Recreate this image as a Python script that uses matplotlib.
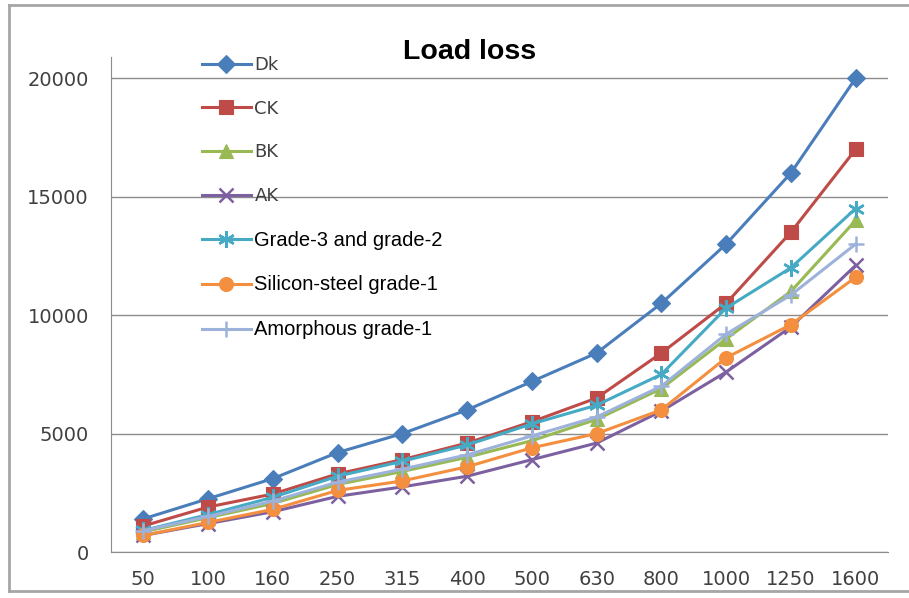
import matplotlib
matplotlib.use('Agg')
import matplotlib.pyplot as plt
from matplotlib.lines import Line2D

ratings = ['50', '100', '160', '250', '315', '400', '500', '630', '800', '1000', '1250', '1600']

dk = [1400, 2250, 3100, 4200, 5000, 6000, 7200, 8400, 10500, 13000, 16000, 20000]
ck = [1100, 1900, 2450, 3300, 3900, 4600, 5500, 6500, 8400, 10500, 13500, 17000]
bk = [850, 1450, 2050, 2850, 3400, 4000, 4700, 5600, 6900, 9000, 11000, 14000]
ak = [700, 1200, 1700, 2350, 2750, 3200, 3900, 4600, 5950, 7600, 9500, 12100]
grade3 = [910, 1580, 2310, 3200, 3830, 4520, 5410, 6200, 7500, 10300, 12000, 14500]
si_grade1 = [700, 1250, 1800, 2600, 3000, 3600, 4400, 5000, 6000, 8200, 9600, 11600]
amorph_grade1 = [900, 1500, 2150, 2950, 3500, 4100, 4900, 5700, 7000, 9200, 10850, 13000]

series = [
    ('Dk', dk, '#4A7EBB', 'D', 9),
    ('CK', ck, '#BE4B48', 's', 10),
    ('BK', bk, '#98B954', '^', 10),
    ('AK', ak, '#7D60A0', 'x', 10),
    ('Grade-3 and grade-2', grade3, '#46AAC5', (6, 2, 0), 12),
    ('Silicon-steel grade-1', si_grade1, '#F38F3F', 'o', 10),
    ('Amorphous grade-1', amorph_grade1, '#9DB2DA', '+', 12),
]

fig = plt.figure(figsize=(9.09, 5.98), dpi=100)
ax = fig.add_axes([111 / 909, 1 - 552 / 598, 777 / 909, 495 / 598])

xs = list(range(len(ratings)))
for name, vals, color, marker, ms in series:
    ax.plot(xs, vals, color=color, lw=2.2, marker=marker, markersize=ms,
            markeredgewidth=1.8 if marker in ('x', '+', (6, 2, 0)) else 0.8,
            markeredgecolor=color, label=name)

ax.set_xlim(-0.5, 11.5)
ax.set_ylim(0, 20900)
ax.set_yticks([0, 5000, 10000, 15000, 20000])
ax.set_xticks(xs)
ax.set_xticklabels(ratings)
ax.grid(axis='y', color='#8C8C8C', lw=1)
ax.set_axisbelow(True)
for s in ['top', 'right']:
    ax.spines[s].set_visible(False)
for s in ['left', 'bottom']:
    ax.spines[s].set_color('#8C8C8C')
ax.tick_params(length=0, labelsize=14, colors='#404040')
ax.tick_params(axis='x', pad=13)
ax.tick_params(axis='y', pad=16)

handles, labels = ax.get_legend_handles_labels()
leg = ax.legend(handles, labels, loc='upper left', frameon=False,
                bbox_to_anchor=(193 / 909, 1 - 47 / 598), bbox_transform=fig.transFigure,
                borderpad=0, handlelength=2.7, handletextpad=0.2, labelspacing=1.42,
                fontsize=13)
for t in leg.get_texts()[:4]:
    t.set_color('#404040')
for t in leg.get_texts()[4:]:
    t.set_family('Liberation Sans')
    t.set_fontsize(14.5)
    t.set_color('black')

fig.text(470 / 909, 1 - 52 / 598, 'Load loss', ha='center', va='center',
         fontsize=20.5, fontweight='bold', family='Liberation Sans')

# outer frame (left, top, bottom)
fc = '#A6A6A6'
fig.add_artist(Line2D([9 / 909, 9 / 909], [1 - 5 / 598, 1 - 591 / 598], color=fc, lw=2, transform=fig.transFigure))
fig.add_artist(Line2D([9 / 909, 1], [1 - 5 / 598, 1 - 5 / 598], color=fc, lw=2, transform=fig.transFigure))
fig.add_artist(Line2D([9 / 909, 1], [1 - 591 / 598, 1 - 591 / 598], color=fc, lw=2, transform=fig.transFigure))

fig.savefig('out.png', dpi=100)
